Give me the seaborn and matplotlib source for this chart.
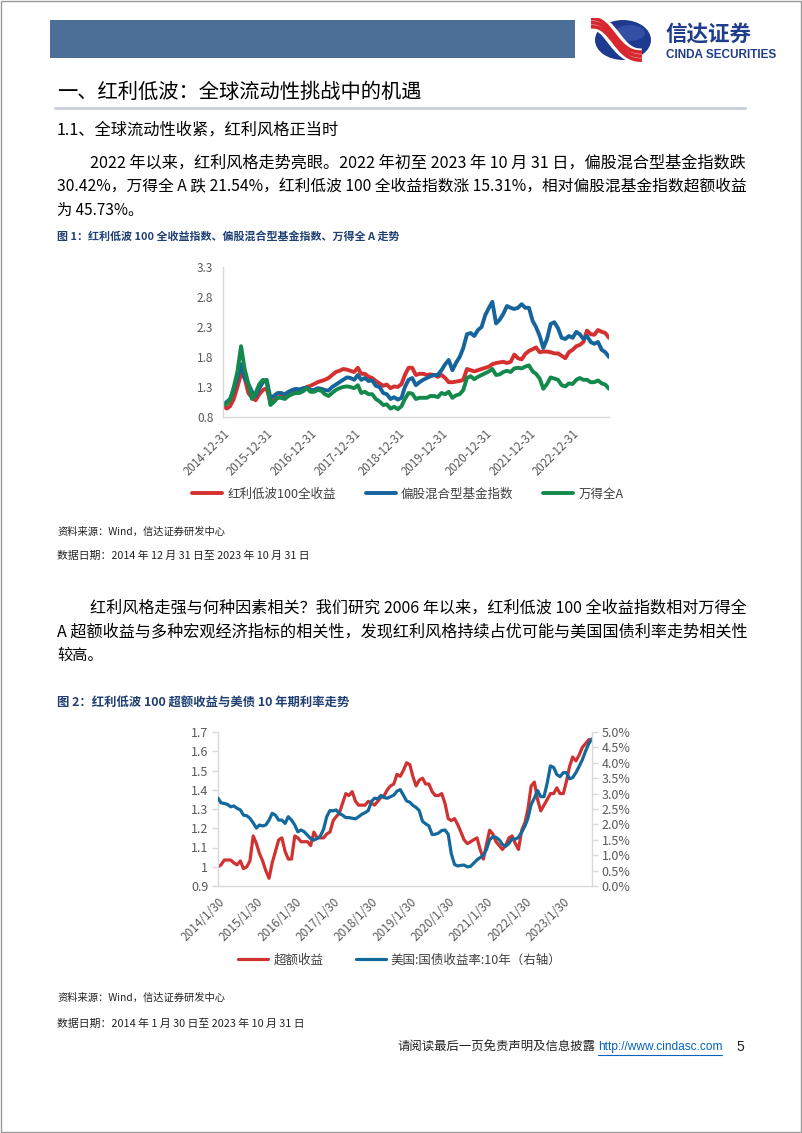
import matplotlib
matplotlib.use('Agg')
import matplotlib.pyplot as plt
import matplotlib.ticker as mticker
from matplotlib.patches import Rectangle, Ellipse, PathPatch
from matplotlib.path import Path
from matplotlib.lines import Line2D
import seaborn as sns
import pandas as pd
import numpy as np

# ---------------- DATA ----------------
# Figure 1: monthly, 2014-12 .. 2023-10
fig1_series = ['红利低波100全收益', '偏股混合型基金指数', '万得全A']
fig1_red = [1.00,
            0.94, 0.98, 1.10, 1.30, 1.52, 1.45, 1.20, 1.12, 1.08, 1.18, 1.25, 1.28,
            1.05, 1.08, 1.12, 1.15, 1.13, 1.17, 1.20, 1.24, 1.25, 1.27, 1.30, 1.32,
            1.35, 1.38, 1.40, 1.42, 1.45, 1.50, 1.55, 1.57, 1.60, 1.59, 1.57, 1.55,
            1.62, 1.52, 1.52, 1.47, 1.45, 1.40, 1.36, 1.32, 1.34, 1.28, 1.31, 1.30,
            1.35, 1.50, 1.62, 1.62, 1.50, 1.52, 1.52, 1.50, 1.51, 1.50, 1.47, 1.50,
            1.45, 1.38, 1.38, 1.39, 1.40, 1.42, 1.60, 1.58, 1.56, 1.58, 1.60, 1.62,
            1.64, 1.68, 1.70, 1.71, 1.72, 1.70, 1.72, 1.84, 1.78, 1.76, 1.85, 1.90,
            1.93, 1.96, 1.88, 1.89, 1.89, 1.88, 1.86, 1.86, 1.82, 1.78, 1.88, 1.92,
            1.98, 2.00, 2.05, 2.24, 2.18, 2.17, 2.25, 2.22, 2.20, 2.12]
fig1_blue = [1.00,
             1.05, 1.10, 1.25, 1.45, 1.68, 1.45, 1.35, 1.22, 1.15, 1.28, 1.38, 1.42,
             1.12, 1.15, 1.20, 1.20, 1.18, 1.22, 1.25, 1.27, 1.26, 1.28, 1.29, 1.25,
             1.25, 1.28, 1.27, 1.25, 1.24, 1.30, 1.34, 1.38, 1.42, 1.46, 1.45, 1.42,
             1.50, 1.42, 1.45, 1.40, 1.41, 1.32, 1.30, 1.20, 1.18, 1.10, 1.13, 1.09,
             1.12, 1.30, 1.42, 1.45, 1.33, 1.38, 1.42, 1.45, 1.48, 1.50, 1.50, 1.58,
             1.68, 1.75, 1.58, 1.70, 1.80, 1.95, 2.18, 2.20, 2.15, 2.25, 2.30, 2.50,
             2.62, 2.72, 2.36, 2.42, 2.52, 2.65, 2.62, 2.60, 2.62, 2.68, 2.62, 2.62,
             2.40, 2.30, 2.15, 1.95, 2.10, 2.35, 2.38, 2.28, 2.12, 2.10, 2.15, 2.12,
             2.22, 2.18, 2.10, 2.15, 2.05, 2.02, 2.05, 1.92, 1.88, 1.80]
fig1_green = [1.00,
              1.02, 1.08, 1.30, 1.55, 1.98, 1.60, 1.35, 1.10, 1.20, 1.35, 1.42, 1.40,
              1.00, 1.05, 1.12, 1.12, 1.10, 1.15, 1.18, 1.20, 1.20, 1.23, 1.28, 1.22,
              1.22, 1.25, 1.24, 1.18, 1.15, 1.20, 1.25, 1.28, 1.30, 1.31, 1.30, 1.28,
              1.33, 1.20, 1.22, 1.18, 1.18, 1.10, 1.06, 1.00, 1.01, 0.94, 0.97, 0.93,
              0.98, 1.10, 1.20, 1.19, 1.10, 1.12, 1.12, 1.12, 1.15, 1.15, 1.13, 1.20,
              1.18, 1.22, 1.12, 1.16, 1.18, 1.25, 1.45, 1.48, 1.43, 1.47, 1.50, 1.53,
              1.56, 1.60, 1.50, 1.51, 1.55, 1.57, 1.55, 1.61, 1.62, 1.61, 1.64, 1.66,
              1.56, 1.52, 1.44, 1.27, 1.35, 1.46, 1.44, 1.42, 1.33, 1.31, 1.36, 1.35,
              1.42, 1.45, 1.42, 1.42, 1.38, 1.38, 1.41, 1.36, 1.34, 1.27]
fig1_xticks = ['2014-12-31', '2015-12-31', '2016-12-31', '2017-12-31', '2018-12-31',
               '2019-12-31', '2020-12-31', '2021-12-31', '2022-12-31']
fig1_yticks = [0.8, 1.3, 1.8, 2.3, 2.8, 3.3]

# Figure 2: monthly, 2014-01 .. 2023-10
fig2_series = ['超额收益', '美国:国债收益率:10年（右轴）']
fig2_excess = [1.00, 1.01, 1.035, 1.035, 1.035, 1.02, 1.01, 1.03, 0.99, 1.00, 1.03, 1.16,
               1.12, 1.07, 1.03, 0.98, 0.94, 1.02, 1.08, 1.14, 1.15, 1.08, 1.04, 1.04,
               1.16, 1.15, 1.13, 1.13, 1.13, 1.11, 1.18, 1.15, 1.15, 1.15, 1.17, 1.18,
               1.24, 1.26, 1.28, 1.33, 1.38, 1.37, 1.39, 1.34, 1.32, 1.32, 1.32, 1.34,
               1.33, 1.32, 1.34, 1.36, 1.37, 1.40, 1.42, 1.43, 1.48, 1.47, 1.50, 1.54,
               1.53, 1.47, 1.42, 1.45, 1.46, 1.43, 1.43, 1.39, 1.37, 1.37, 1.38, 1.33,
               1.25, 1.24, 1.25, 1.22, 1.18, 1.14, 1.12, 1.13, 1.14, 1.15, 1.09, 1.04,
               1.12, 1.19, 1.17, 1.13, 1.11, 1.09, 1.11, 1.15, 1.16, 1.12, 1.09, 1.19,
               1.23, 1.30, 1.42, 1.44, 1.35, 1.29, 1.32, 1.35, 1.38, 1.38, 1.41, 1.38,
               1.38, 1.44, 1.52, 1.57, 1.55, 1.58, 1.62, 1.64, 1.66, 1.66]
fig2_yield = [2.85, 2.70, 2.68, 2.65, 2.57, 2.60, 2.52, 2.47, 2.30, 2.28, 2.20, 2.05,
              1.88, 1.98, 1.95, 1.98, 2.14, 2.36, 2.30, 2.14, 2.14, 2.03, 2.25, 2.14,
              1.98, 1.76, 1.82, 1.76, 1.65, 1.54, 1.49, 1.54, 1.62, 1.84, 2.25, 2.45,
              2.44, 2.47, 2.35, 2.30, 2.22, 2.22, 2.20, 2.18, 2.25, 2.33, 2.38, 2.45,
              2.75, 2.85, 2.83, 2.94, 2.87, 2.85, 2.90, 2.95, 3.08, 3.13, 2.95, 2.76,
              2.72, 2.62, 2.55, 2.45, 2.10, 2.02, 1.95, 1.67, 1.68, 1.72, 1.80, 1.82,
              1.68, 1.05, 0.70, 0.65, 0.67, 0.68, 0.62, 0.64, 0.74, 0.85, 0.92, 1.00,
              1.20, 1.50, 1.60, 1.58, 1.50, 1.35, 1.29, 1.38, 1.53, 1.52, 1.58, 1.75,
              1.95, 2.20, 2.65, 2.85, 3.10, 2.90, 2.90, 3.35, 3.90, 3.85, 3.62, 3.55,
              3.68, 3.68, 3.48, 3.52, 3.68, 3.88, 4.10, 4.38, 4.62, 4.78]
fig2_xticks = ['2014/1/30', '2015/1/30', '2016/1/30', '2017/1/30', '2018/1/30',
               '2019/1/30', '2020/1/30', '2021/1/30', '2022/1/30', '2023/1/30']
fig2_left_ticks = [0.9, 1.0, 1.1, 1.2, 1.3, 1.4, 1.5, 1.6, 1.7]
fig2_right_ticks = [0.0, 0.5, 1.0, 1.5, 2.0, 2.5, 3.0, 3.5, 4.0, 4.5, 5.0]

# ---------------- STYLE ----------------
sns.set_style('white')
plt.rcParams['font.family'] = ['Noto Sans CJK SC', 'DejaVu Sans']
plt.rcParams['axes.unicode_minus'] = False

RED1, BLUE1, GREEN1 = '#D3302F', '#16649C', '#14894C'
RED2, BLUE2 = '#D03232', '#13699C'
GRID = '#D9D9D9'
TICK = '#595959'

W, H = 802, 1133
fig = plt.figure(figsize=(W / 100, H / 100), dpi=100)
fig.patch.set_facecolor('white')
renderer = fig.canvas.get_renderer()


def fx(x):
    return x / W


def fy(y):
    return 1 - y / H


def put(x, y, s, size, fit=None, **kw):
    t = fig.text(fx(x), fy(y), s, fontsize=size, va='center', ha='left', **kw)
    if fit is not None:
        w = t.get_window_extent(renderer).width
        t.set_fontsize(size * (fit - x) / w)
    return t


def month_range(start, end):
    try:
        return pd.date_range(start, end, freq='ME')
    except Exception:
        return pd.date_range(start, end, freq='M')


# ---------------- PAGE FRAME / HEADER ----------------
fig.add_artist(Rectangle((0.0008, 0.0008), 0.9984, 0.9984, transform=fig.transFigure,
                         fill=False, edgecolor='#9a9a9a', lw=1.0))
fig.add_artist(Rectangle((fx(50), fy(58)), fx(575) - fx(50), 38 / H, transform=fig.transFigure,
                         facecolor='#4B6F97', edgecolor='none'))

# logo
lax = fig.add_axes([fx(588), fy(62), 66 / W, 44 / H])
lax.set_xlim(0, 66)
lax.set_ylim(44, 0)
lax.axis('off')
lax.add_patch(Ellipse((35, 22), 56, 40, facecolor='#1d3a8f', edgecolor='none'))
lax.add_patch(Ellipse((42, 15), 30, 16, facecolor='#4a6cc0', edgecolor='none', alpha=0.45))
codes = [Path.MOVETO, Path.CURVE4, Path.CURVE4, Path.CURVE4]
for off, col, lw in [(0, 'white', 11), (-4, '#d8262e', 2.6), (0, '#d8262e', 2.6), (4, '#d8262e', 2.6)]:
    verts = [(3, 5 + off), (24, 2 + off), (28, 40 + off), (54, 38 + off)]
    lax.add_patch(PathPatch(Path(verts, codes), fill=False, edgecolor=col, lw=lw, capstyle='butt'))

put(666, 34, '信达证券', 15.5, color='#1f3d8a', fontweight='bold')
put(666, 55, 'CINDA SECURITIES', 7, fit=777, color='#1f3d8a', fontweight='bold',
    family=['Liberation Sans', 'DejaVu Sans'])

# ---------------- TEXT ----------------
put(57, 92, '一、红利低波：全球流动性挑战中的机遇', 13.5, fit=422, color='black')
fig.add_artist(Line2D([fx(55), fx(745)], [fy(108), fy(108)], transform=fig.transFigure,
                      color='#CDD2DA', lw=2.2))
put(57, 130, '1.1、全球流动性收紧，红利风格正当时', 11.5, fit=340, color='black')

body = 11
put(90, 163, '2022 年以来，红利风格走势亮眼。2022 年初至 2023 年 10 月 31 日，偏股混合型基金指数跌',
    body, fit=745, color='black')
put(57, 187, '30.42%，万得全 A 跌 21.54%，红利低波 100 全收益指数涨 15.31%，相对偏股混基金指数超额收益',
    body, fit=745, color='black')
put(57, 210, '为 45.73%。', body, color='black')

put(57, 236, '图 1：红利低波 100 全收益指数、偏股混合型基金指数、万得全 A 走势', 8, fit=400,
    color='#1F3F73', fontweight='bold')

put(57, 532, '资料来源：Wind，信达证券研发中心', 7.5, fit=225, color='#222222', style='italic')
put(57, 556, '数据日期：2014 年 12 月 31 日至 2023 年 10 月 31 日', 7.5, fit=310, color='#222222',
    style='italic')

put(90, 608, '红利风格走强与何种因素相关？我们研究 2006 年以来，红利低波 100 全收益指数相对万得全',
    body, fit=745, color='black')
put(57, 632, 'A 超额收益与多种宏观经济指标的相关性，发现红利风格持续占优可能与美国国债利率走势相关性',
    body, fit=745, color='black')
put(57, 655, '较高。', body, color='black')

put(57, 702, '图 2：红利低波 100 超额收益与美债 10 年期利率走势', 8, fit=350,
    color='#1F3F73', fontweight='bold')

put(57, 998, '资料来源：Wind，信达证券研发中心', 7.5, fit=225, color='#222222', style='italic')
put(57, 1024, '数据日期：2014 年 1 月 30 日至 2023 年 10 月 31 日', 7.5, fit=305, color='#222222',
    style='italic')

put(397, 1047, '请阅读最后一页免责声明及信息披露', 9, fit=595, color='#222222')
put(598, 1047, 'http://www.cindasc.com', 9, fit=722, color='#0563C1',
    family=['Liberation Sans', 'DejaVu Sans'])
fig.add_artist(Line2D([fx(598), fx(722)], [fy(1055), fy(1055)], transform=fig.transFigure,
                      color='#0563C1', lw=0.8))
put(736, 1047, '5', 10, color='#222222', family=['Liberation Sans', 'DejaVu Sans'])


def style_axes(ax, spines):
    for s in ['top', 'right', 'left', 'bottom']:
        ax.spines[s].set_visible(s in spines)
        ax.spines[s].set_color(GRID)
        ax.spines[s].set_linewidth(1.0)
    ax.grid(False)
    ax.set_xlabel('')
    ax.set_ylabel('')


# ---------------- CHART 1 ----------------
d1 = month_range('2014-12-31', '2023-10-31')
df1 = pd.DataFrame({
    'date': np.concatenate([d1, d1, d1]),
    'value': fig1_red + fig1_blue + fig1_green,
    'series': [fig1_series[0]] * len(d1) + [fig1_series[1]] * len(d1) + [fig1_series[2]] * len(d1),
})
ax1 = fig.add_axes([fx(223), fy(417), fx(609) - fx(223), (417 - 267) / H])
sns.lineplot(data=df1, x='date', y='value', hue='series', hue_order=fig1_series,
             palette=[RED1, BLUE1, GREEN1], linewidth=2.8, ax=ax1, legend=False)
style_axes(ax1, ['left', 'bottom'])
ax1.set_xlim(pd.Timestamp('2014-12-31'), pd.Timestamp('2023-10-31'))
ax1.set_ylim(fig1_yticks[0], fig1_yticks[-1])
ax1.set_yticks(fig1_yticks)
ax1.yaxis.set_major_formatter(mticker.FuncFormatter(lambda v, p: f'{v:.1f}'))
ax1.set_xticks(pd.to_datetime(fig1_xticks))
ax1.set_xticklabels(fig1_xticks, rotation=45, ha='right', rotation_mode='anchor')
ax1.tick_params(axis='both', colors=GRID, labelcolor=TICK, length=4, width=1, direction='out')
ax1.tick_params(axis='y', labelsize=8.5, pad=3)
ax1.tick_params(axis='x', labelsize=8.3, pad=3)

h1 = ax1.get_lines()[:3]
fig.legend(h1, fig1_series, loc='center', bbox_to_anchor=(fx(408), fy(494)), ncol=3,
           frameon=False, fontsize=9, handlelength=2.4, columnspacing=2.4, handletextpad=0.4,
           labelcolor='#404040')

# ---------------- CHART 2 ----------------
d2 = month_range('2014-01-31', '2023-10-31')
ax2 = fig.add_axes([fx(218), fy(886), fx(592) - fx(218), (886 - 732) / H])
sns.lineplot(x=d2, y=fig2_excess, color=RED2, linewidth=2.3, ax=ax2, label=fig2_series[0], legend=False)
ax3 = ax2.twinx()
sns.lineplot(x=d2, y=fig2_yield, color=BLUE2, linewidth=2.3, ax=ax3, label=fig2_series[1], legend=False)
style_axes(ax2, ['left', 'bottom'])
style_axes(ax3, ['right'])
ax2.spines['right'].set_visible(False)
ax3.spines['left'].set_visible(False)
ax3.spines['bottom'].set_visible(False)
x_lo, x_hi = pd.Timestamp('2014-01-30'), pd.Timestamp('2023-10-31')
ax2.set_xlim(x_lo, x_hi)
ax3.set_xlim(x_lo, x_hi)
ax2.set_ylim(fig2_left_ticks[0], fig2_left_ticks[-1])
ax2.set_yticks(fig2_left_ticks)
ax2.yaxis.set_major_formatter(mticker.FuncFormatter(lambda v, p: f'{v:g}'))
ax3.set_ylim(fig2_right_ticks[0], fig2_right_ticks[-1])
ax3.set_yticks(fig2_right_ticks)
ax3.yaxis.set_major_formatter(mticker.FuncFormatter(lambda v, p: f'{v:.1f}%'))
tick_dates = pd.to_datetime([t.replace('/', '-') for t in fig2_xticks], format='%Y-%m-%d')
ax2.set_xticks(tick_dates)
ax2.set_xticklabels(fig2_xticks, rotation=45, ha='right', rotation_mode='anchor')
for a in (ax2, ax3):
    a.tick_params(axis='both', colors=GRID, labelcolor=TICK, length=4, width=1, direction='out')
    a.tick_params(axis='y', labelsize=9, pad=3)
ax2.tick_params(axis='x', labelsize=8.5, pad=3)

h2 = [ax2.get_lines()[0], ax3.get_lines()[0]]
fig.legend(h2, fig2_series, loc='center', bbox_to_anchor=(fx(400), fy(960)), ncol=2,
           frameon=False, fontsize=9, handlelength=2.4, columnspacing=2.6, handletextpad=0.4,
           labelcolor='#404040')

fig.savefig('out.png', dpi=100, facecolor='white')
